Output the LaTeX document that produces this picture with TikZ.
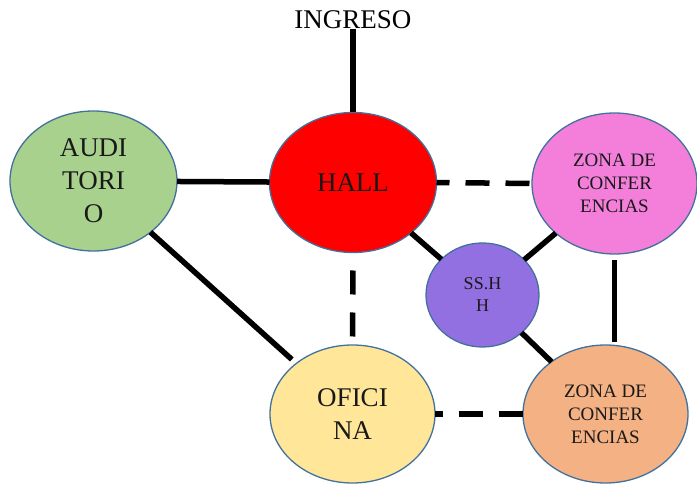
\documentclass[tikz,border=0pt]{standalone}
\usepackage{fontspec}
\setmainfont{Liberation Serif}
\usetikzlibrary{shapes.geometric}
\definecolor{audgreen}{HTML}{A9D18E}
\definecolor{hallred}{HTML}{FF0000}
\definecolor{zonapink}{HTML}{F47FDA}
\definecolor{sshpurple}{HTML}{9370E2}
\definecolor{ofiyellow}{HTML}{FFE699}
\definecolor{zonaorange}{HTML}{F4B183}
\definecolor{edgeblue}{HTML}{41719C}
\tikzset{
  room/.style={ellipse, draw=edgeblue, line width=1.3pt, inner sep=0pt, outer sep=0pt, align=center, text=black!90},
  bigtext/.style={font=\fontsize{27}{33}\selectfont},
  smalltext/.style={font=\fontsize{19}{23}\selectfont},
  link/.style={line width=5.5pt, black},
  dlink/.style={line width=5.5pt, black, dash pattern=on 24pt off 16pt},
}
\begin{document}
\begin{tikzpicture}[x=1pt,y=-1pt]
\useasboundingbox (0,0) rectangle (697,494);
\node[room, bigtext, fill=audgreen, minimum width=167pt, minimum height=140pt] (aud) at (93.5,181) {AUDI\\TORI\\O};
\node[room, bigtext, fill=hallred, minimum width=167pt, minimum height=140pt] (hall) at (353,182.5) {HALL};
\node[room, smalltext, fill=zonapink, minimum width=165pt, minimum height=141pt] (zt) at (614.5,183.5) {ZONA DE\\CONFER\\ENCIAS};
\node[room, fill=sshpurple, font=\fontsize{18}{22}\selectfont, minimum width=113pt, minimum height=104pt] (ssh) at (482.5,295) {SS.H\\H};
\node[room, bigtext, fill=ofiyellow, minimum width=165pt, minimum height=138pt] (of) at (352.5,414) {OFICI\\NA};
\node[room, smalltext, fill=zonaorange, minimum width=165pt, minimum height=138pt] (zb) at (605.5,414) {ZONA DE\\CONFER\\ENCIAS};
\node[font=\fontsize{27}{33}\selectfont, inner sep=0pt, anchor=base] (ing) at (353,29) {INGRESO};
% connectors
\draw[link] (ing.base) -- (hall.north);
\draw[link] (aud) -- (hall);
\draw[link, shorten >=6pt] (aud) -- (of);
\draw[link] (hall) -- (ssh);
\draw[link] (ssh) -- (zt);
\draw[link] (ssh) -- (zb);
\draw[link, shorten <=6pt, shorten >=3pt] (zt.south) -- (zt.south |- zb.north);
\draw[dlink, dash phase=11pt] (hall.east) -- (zt.west);
\draw[dlink, dash phase=16pt] (of.east) -- (zb.west);
\draw[link, dash pattern=on 24pt off 18pt, dash phase=24pt] (hall.south) -- (of.north);
\end{tikzpicture}
\end{document}
